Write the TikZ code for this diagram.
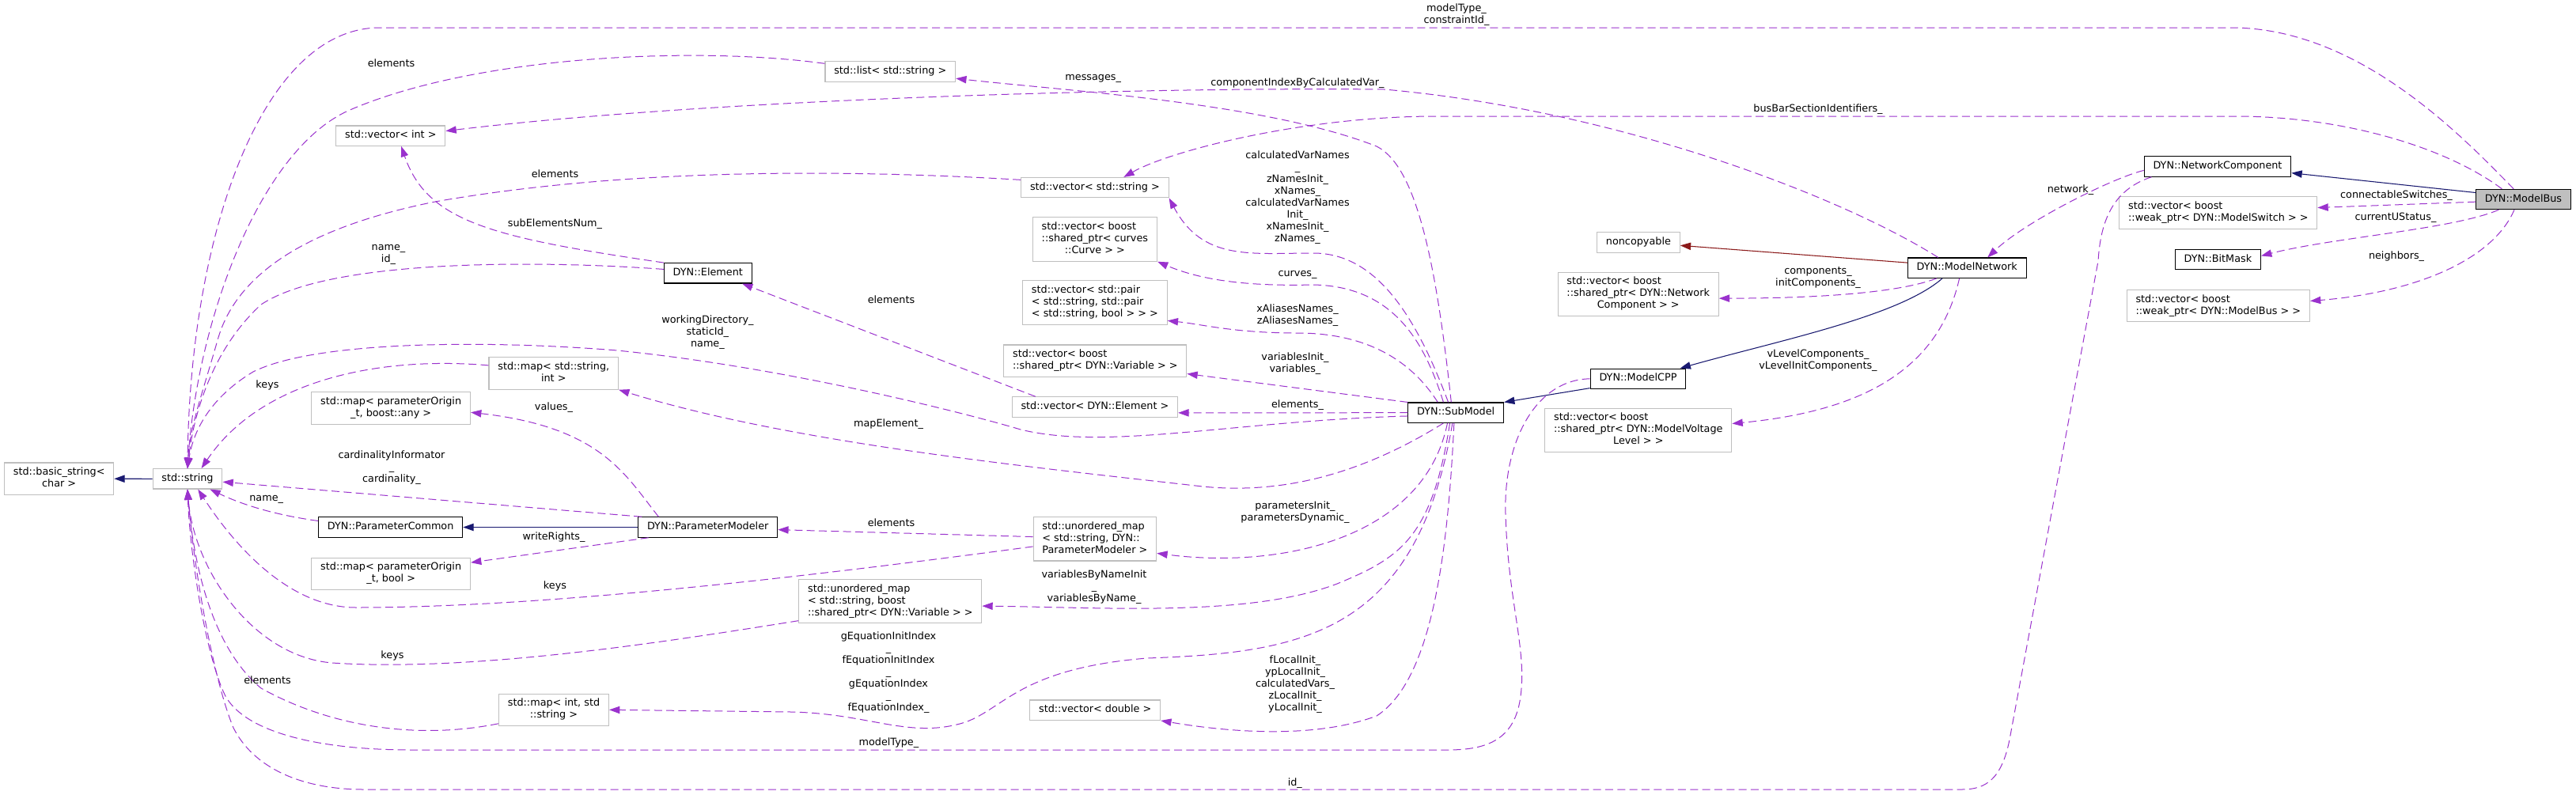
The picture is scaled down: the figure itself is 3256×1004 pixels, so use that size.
\documentclass[tikz,border=0pt]{standalone}
\usepackage{fontspec}
\setmainfont{DejaVu Sans}
\usetikzlibrary{arrows.meta}
\definecolor{viola}{HTML}{9A32CD}
\definecolor{blu}{HTML}{191970}
\definecolor{rosso}{HTML}{8B1A1A}
\definecolor{grigio}{HTML}{BFBFBF}
\newcommand{\cella}[1]{\begin{tabular}{@{}l@{}}#1\end{tabular}}
\newcommand{\ultima}[1]{\multicolumn{1}{@{}c@{}}{#1}}
\begin{document}
\begin{tikzpicture}[x=0.75pt, y=-0.75pt,
    font=\fontsize{9.6}{11.25}\selectfont,
    classe/.style={draw=black, fill=white, line width=0.8pt, inner xsep=8.5pt, inner ysep=3.9pt},
    esterna/.style={classe, draw=grigio},
    corrente/.style={classe, fill=grigio},
    uso/.style={draw=viola, line width=0.75pt, dash pattern=on 7.5pt off 4pt, -{Triangle[length=10pt,width=7pt]}},
    eredita/.style={draw=blu, line width=0.8pt, -{Triangle[length=10pt,width=7pt]}},
    privata/.style={eredita, draw=rosso},
    etichetta/.style={align=center, inner sep=0pt}]
        %disegno sfondo
        \fill[white] (0,0) rectangle (3256,1004);
        \useasboundingbox (0,0) rectangle (3256,1004);
        %disegno nodi a sinistra
        \node[esterna] (basic) at (74.7,605.2) {\cella{std::basic\_string<\\\ultima{char >}}};
        \node[esterna] (str) at (237,605.3) {\cella{std::string}};
        \node[classe] (pcom) at (493.7,666.5) {\cella{DYN::ParameterCommon}};
        \node[classe] (pmod) at (894.7,666.5) {\cella{DYN::ParameterModeler}};
        \node[esterna] (mapany) at (494.2,516) {\cella{std::map< parameterOrigin\\\ultima{\_t, boost::any >}}};
        \node[esterna] (mapbool) at (494.2,725.3) {\cella{std::map< parameterOrigin\\\ultima{\_t, bool >}}};
        \node[esterna] (mapint) at (700,897.3) {\cella{std::map< int, std\\\ultima{::string >}}};
        \node[esterna] (umvar) at (1125.3,760) {\cella{std::unordered\_map\\< std::string, boost\\::shared\_ptr< DYN::Variable > >}};
        \node[esterna] (vint) at (493.9,171.7) {\cella{std::vector< int >}};
        \node[classe] (elem) at (894.8,345.3) {\cella{DYN::Element}};
        \node[esterna] (mapsi) at (699.8,472) {\cella{std::map< std::string,\\\ultima{int >}}};
        \node[esterna] (lst) at (1125.3,90.5) {\cella{std::list< std::string >}};
        %disegno nodi al centro
        \node[esterna] (vstr) at (1383.9,237.2) {\cella{std::vector< std::string >}};
        \node[esterna] (vcurve) at (1383.9,302.5) {\cella{std::vector< boost\\::shared\_ptr< curves\\\ultima{::Curve > >}}};
        \node[esterna] (vpair) at (1383.9,382.5) {\cella{std::vector< std::pair\\< std::string, std::pair\\< std::string, bool > > >}};
        \node[esterna] (vvar) at (1384.3,456.2) {\cella{std::vector< boost\\::shared\_ptr< DYN::Variable > >}};
        \node[esterna] (velem) at (1383.9,514.5) {\cella{std::vector< DYN::Element >}};
        \node[esterna] (umpm) at (1383.9,681.3) {\cella{std::unordered\_map\\< std::string, DYN::\\ParameterModeler >}};
        \node[esterna] (vdbl) at (1384.2,897.7) {\cella{std::vector< double >}};
        \node[classe] (sub) at (1840.2,521.7) {\cella{DYN::SubModel}};
        %disegno nodi a destra
        \node[esterna] (noncop) at (2070.9,306.6) {\cella{noncopyable}};
        \node[esterna] (vnc) at (2070.7,371.8) {\cella{std::vector< boost\\::shared\_ptr< DYN::Network\\\ultima{Component > >}}};
        \node[classe] (cpp) at (2070.5,478.8) {\cella{DYN::ModelCPP}};
        \node[esterna] (vvl) at (2070.8,543.8) {\cella{std::vector< boost\\::shared\_ptr< DYN::ModelVoltage\\\ultima{Level > >}}};
        \node[classe] (net) at (2486.2,338.7) {\cella{DYN::ModelNetwork}};
        \node[classe] (netc) at (2803,210.5) {\cella{DYN::NetworkComponent}};
        \node[esterna] (vsw) at (2803.8,269.1) {\cella{std::vector< boost\\::weak\_ptr< DYN::ModelSwitch > >}};
        \node[classe] (bit) at (2803.4,328.2) {\cella{DYN::BitMask}};
        \node[esterna] (vbus) at (2803.8,386.6) {\cella{std::vector< boost\\::weak\_ptr< DYN::ModelBus > >}};
        \node[corrente] (bus) at (3189.5,252) {\cella{DYN::ModelBus}};
        %disegno ereditarieta
        \draw[eredita] (str.west) -- (basic.east);
        \draw[eredita] (pmod.west) -- (pcom.east);
        \draw[eredita] (cpp.191) -- (sub.north east);
        \draw[eredita] (net.203) .. controls (2400,400) and (2250,430) .. (cpp.14);
        \draw[eredita] (bus.172) -- (netc.-5);
        \draw[privata] (net.175) -- (noncop.-4);
        %disegno membri di DYN::ModelBus
        \draw[uso] (bus.133) .. controls (3110,170) and (2980,35) .. (2820,35) -- (480,35) .. controls (330,35) and (240,300) .. (str.north);
        \draw[uso] (bus.154) .. controls (3090,185) and (2960,147) .. (2825,147) -- (1815,147) .. controls (1650,147) and (1480,190) .. (vstr.20);
        \draw[uso] (bus.183) -- (vsw.3);
        \draw[uso] (bus.203) .. controls (3100,290) and (2950,300) .. (bit.5);
        \draw[uso] (bus.229) .. controls (3150,330) and (3050,370) .. (vbus.3);
        \draw[uso] (netc.183) .. controls (2670,225) and (2560,280) .. (net.27);
        \draw[uso] (netc.189) .. controls (2670,240) and (2655,280) .. (2652,330) -- (2540,935) .. controls (2530,985) and (2510,998) .. (2480,998) -- (460,998) .. controls (380,998) and (320,970) .. (295,920) .. controls (270,860) and (245,720) .. (str.south);
        %disegno membri di DYN::ModelNetwork
        \draw[uso] (net.199) .. controls (2400,370) and (2300,377) .. (vnc.-3);
        \draw[uso] (net.234) .. controls (2450,470) and (2350,520) .. (vvl.4);
        \draw[uso] (net.160) .. controls (2330,250) and (2050,140) .. (1750,113) .. controls (1450,110) and (900,125) .. (vint.5);
        \draw[uso] (cpp.west) .. controls (1940,480) and (1900,560) .. (1903,650) .. controls (1906,760) and (1930,820) .. (1922,880) .. controls (1915,935) and (1880,948) .. (1830,948) -- (520,948) .. controls (400,948) and (310,925) .. (285,880) .. controls (260,830) and (240,700) .. (str.south);
        %disegno membri di DYN::SubModel
        \draw[uso] (sub.114) .. controls (1815,330) and (1790,210) .. (1740,185) .. controls (1600,130) and (1350,115) .. (lst.-6);
        \draw[uso] (sub.126) .. controls (1790,400) and (1740,320) .. (1660,320) .. controls (1580,320) and (1520,330) .. (vstr.south east);
        \draw[uso] (sub.140) .. controls (1800,430) and (1760,362) .. (1660,360) .. controls (1580,362) and (1520,355) .. (vcurve.south east);
        \draw[uso] (sub.150) .. controls (1780,450) and (1720,421) .. (1640,421) .. controls (1560,421) and (1520,410) .. (vpair.-14);
        \draw[uso] (sub.north west) -- (vvar.-8);
        \draw[uso] (sub.west) -- (velem.-4);
        \draw[uso] (sub.184) .. controls (1560,532) and (1400,570) .. (1290,543) .. controls (1230,525) and (1000,465) .. (780,443) .. controls (620,430) and (400,430) .. (320,470) .. controls (270,500) and (245,540) .. (str.north);
        \draw[uso] (sub.220) .. controls (1720,600) and (1620,625) .. (1520,615) .. controls (1300,590) and (1000,560) .. (mapsi.south east);
        \draw[uso] (sub.231) .. controls (1800,680) and (1620,720) .. (umpm.-13);
        \draw[uso] (sub.240) .. controls (1810,680) and (1770,705) .. (1690,738) .. controls (1580,780) and (1400,768) .. (umvar.-3);
        \draw[uso] (sub.252) .. controls (1790,800) and (1650,825) .. (1450,832) .. controls (1290,845) and (1270,895) .. (1220,913) .. controls (1150,935) and (1100,902) .. (1000,900) -- (mapint.east);
        \draw[uso] (sub.260) .. controls (1830,700) and (1810,860) .. (1740,905) .. controls (1660,935) and (1550,925) .. (vdbl.south east);
        %disegno membri dei contenitori
        \draw[uso] (velem.170) -- (elem.-17);
        \draw[uso] (elem.north west) .. controls (620,300) and (540,280) .. (vint.-45);
        \draw[uso] (elem.175) .. controls (700,330) and (420,325) .. (330,385) .. controls (270,440) and (245,520) .. (str.north);
        \draw[uso] (vstr.174) .. controls (1000,210) and (750,220) .. (550,255) .. controls (400,285) and (300,340) .. (275,430) .. controls (255,500) and (240,540) .. (str.north);
        \draw[uso] (lst.173) .. controls (880,58) and (600,70) .. (440,140) .. controls (330,190) and (250,400) .. (str.north);
        \draw[uso] (mapsi.173) .. controls (480,450) and (330,480) .. (str.37);
        \draw[uso] (pmod.168) .. controls (790,600) and (760,540) .. (mapany.-3);
        \draw[uso] (pmod.171) -- (str.-5);
        \draw[uso] (pcom.175) .. controls (340,650) and (300,635) .. (str.-25);
        \draw[uso] (pmod.190) -- (mapbool.8);
        \draw[uso] (umpm.178) -- (pmod.-2);
        \draw[uso] (umpm.187) .. controls (1050,725) and (700,768) .. (450,768) .. controls (360,768) and (290,680) .. (str.-45);
        \draw[uso] (umvar.192) .. controls (850,810) and (600,850) .. (420,838) .. controls (320,830) and (245,720) .. (str.south);
        \draw[uso] (mapint.194) .. controls (530,935) and (420,920) .. (330,870) .. controls (270,820) and (245,720) .. (str.south);
        %disegno etichette
        \node[etichetta] (e1) at (1841,19) {modelType\_\\constraintId\_};
        \node[etichetta] (e2) at (2298,138.5) {busBarSectionIdentifiers\_};
        \node[etichetta] (e3) at (3029,247) {connectableSwitches\_};
        \node[etichetta] (e4) at (3028,275) {currentUStatus\_};
        \node[etichetta] (e5) at (3029,324) {neighbors\_};
        \node[etichetta] (e6) at (2617,240) {network\_};
        \node[etichetta] (e7) at (2298,351.5) {components\_\\initComponents\_};
        \node[etichetta] (e8) at (2298,456) {vLevelComponents\_\\vLevelInitComponents\_};
        \node[etichetta] (e9) at (1640,105) {componentIndexByCalculatedVar\_};
        \node[etichetta] (e10) at (1381.7,99) {messages\_};
        \node[etichetta] (e11) at (1640,250) {calculatedVarNames\\\_\\zNamesInit\_\\xNames\_\\calculatedVarNames\\Init\_\\xNamesInit\_\\zNames\_};
        \node[etichetta] (e12) at (1640,347) {curves\_};
        \node[etichetta] (e13) at (1640,399) {xAliasesNames\_\\zAliasesNames\_};
        \node[etichetta] (e14) at (1637,460) {variablesInit\_\\variables\_};
        \node[etichetta] (e15) at (1640,511.7) {elements\_};
        \node[etichetta] (e16) at (1126.5,379) {elements};
        \node[etichetta] (e17) at (701.5,282.7) {subElementsNum\_};
        \node[etichetta] (e18) at (491,322) {name\_\\id\_};
        \node[etichetta] (e19) at (701.5,219.3) {elements};
        \node[etichetta] (e20) at (494.5,79.3) {elements};
        \node[etichetta] (e21) at (894.4,420) {workingDirectory\_\\staticId\_\\name\_};
        \node[etichetta] (e22) at (338,486.7) {keys};
        \node[etichetta] (e23) at (1123,535.7) {mapElement\_};
        \node[etichetta] (e24) at (700,515) {values\_};
        \node[etichetta] (e25) at (495,590.7) {cardinalityInformator\\\_\\cardinality\_};
        \node[etichetta] (e26) at (336.7,631) {name\_};
        \node[etichetta] (e27) at (700,679) {writeRights\_};
        \node[etichetta] (e28) at (1126.5,660.7) {elements};
        \node[etichetta] (e29) at (701.5,740.7) {keys};
        \node[etichetta] (e30) at (1637,648) {parametersInit\_\\parametersDynamic\_};
        \node[etichetta] (e31) at (1383,742) {variablesByNameInit\\\_\\variablesByName\_};
        \node[etichetta] (e32) at (496,829) {keys};
        \node[etichetta] (e33) at (1123,850.5) {gEquationInitIndex\\\_\\fEquationInitIndex\\\_\\gEquationIndex\\\_\\fEquationIndex\_};
        \node[etichetta] (e34) at (338,860) {elements};
        \node[etichetta] (e35) at (1123.4,939.3) {modelType\_};
        \node[etichetta] (e36) at (1636.8,990) {id\_};
        \node[etichetta] (e37) at (1637,864.7) {fLocalInit\_\\ypLocalInit\_\\calculatedVars\_\\zLocalInit\_\\yLocalInit\_};
\end{tikzpicture}
\end{document}
